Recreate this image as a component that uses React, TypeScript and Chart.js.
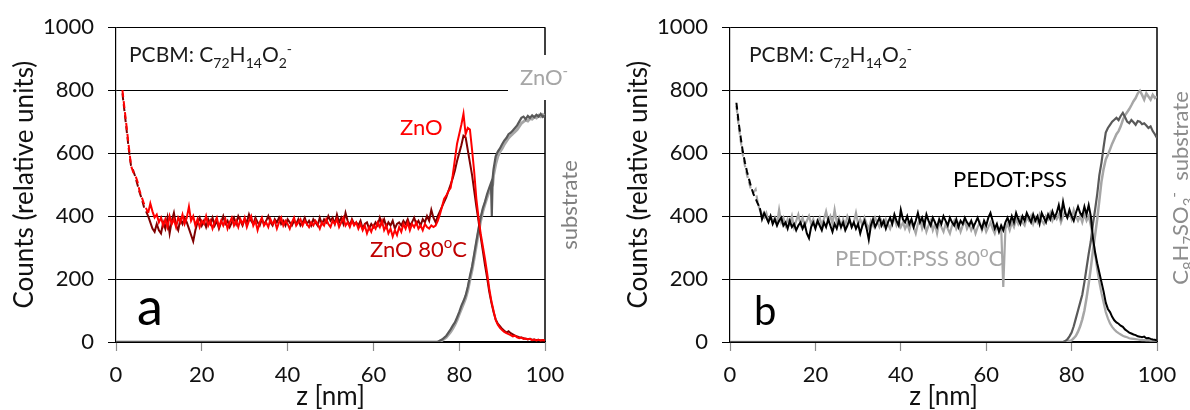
import React, { useEffect, useRef } from "react";
import { Chart, registerables } from "chart.js";

Chart.register(...registerables);

const FONT = "Lato, 'Open Sans', sans-serif";

// ---------- data ----------
// PCBM (C72H14O2-) signal, sampled from z = 1.5 nm every 0.5 nm
const PCBM_Z_START = 1.5;
const PCBM_Z_STEP = 0.5;

const znoCounts = [
  800, 740, 680, 620, 560, 540, 530, 510, 480, 460,
  440, 425, 410, 440, 415, 395, 405, 380, 395, 370,
  390, 365, 400, 375, 390, 365, 395, 380, 405, 375,
  395, 430, 385, 400, 370, 390, 365, 385, 375, 400,
  370, 385, 360, 380, 395, 365, 385, 370, 390, 360,
  380, 395, 370, 385, 365, 390, 375, 395, 365, 385,
  400, 370, 385, 355, 380, 395, 370, 380, 365, 390,
  375, 385, 360, 380, 395, 370, 385, 375, 360, 380,
  395, 370, 380, 390, 370, 385, 375, 365, 380, 370,
  385, 375, 360, 380, 370, 390, 375, 365, 385, 375,
  390, 365, 380, 395, 370, 380, 365, 385, 370, 380,
  360, 375, 355, 370, 345, 365, 350, 370, 360, 380,
  365, 385, 355, 370, 345, 360, 335, 355, 340, 365,
  350, 375, 360, 380, 355, 375, 365, 380, 360, 370,
  355, 375, 365, 360, 370, 365, 370, 385, 405, 430,
  455, 465, 480, 490, 530, 580, 630, 660, 690, 725,
  660, 680, 675, 610, 540, 455, 395, 345, 305, 265,
  220, 170, 130, 100, 70, 55, 45, 38, 32, 28,
  25, 22, 18, 20, 15, 12, 14, 10, 11, 8,
  10, 6, 8, 5, 7, 5, 6, 5,
];

const zno80Counts = [
  790, 730, 670, 610, 560, 545, 525, 500, 475, 455,
  430, 415, 400, 380, 360, 350, 375, 355, 345, 380,
  360, 395, 345, 385, 410, 370, 355, 390, 375, 395,
  380, 360, 340, 320, 355, 380, 395, 370, 385, 365,
  390, 375, 395, 370, 385, 360, 380, 400, 375, 385,
  365, 380, 395, 375, 400, 385, 370, 390, 380, 405,
  385, 375, 395, 380, 370, 390, 375, 385, 400, 380,
  370, 390, 380, 395, 375, 385, 370, 390, 380, 370,
  385, 375, 390, 370, 380, 395, 375, 385, 370, 390,
  380, 370, 395, 375, 390, 380, 400, 385, 395, 375,
  405, 380, 395, 375, 410, 385, 370, 390, 375, 380,
  370, 385, 360, 375, 380, 360, 375, 365, 380, 370,
  395, 375, 390, 365, 380, 370, 385, 360, 375, 380,
  370, 385, 375, 390, 370, 380, 395, 375, 385, 370,
  390, 380, 400, 385, 420, 395, 380, 400, 415, 430,
  445, 460, 480, 500, 520, 545, 575, 600, 625, 655,
  650, 610, 570, 530, 480, 430, 385, 335, 290, 245,
  205, 160, 125, 95, 72, 58, 50, 42, 36, 30,
  34, 28, 24, 20, 18, 15, 14, 12, 10, 9,
  10, 7, 8, 6, 7, 5, 6, 5,
];

const pedotCounts = [
  760, 700, 650, 605, 570, 540, 515, 490, 470, 455,
  440, 425, 390, 410, 395, 380, 400, 375, 390, 370,
  385, 395, 370, 380, 360, 385, 365, 375, 355, 370,
  380, 360, 375, 345, 330, 365, 380, 360, 385, 370,
  355, 380, 365, 390, 370, 350, 375, 360, 385, 365,
  380, 355, 370, 390, 365, 380, 360, 375, 345, 370,
  385, 360, 325, 370, 390, 365, 380, 395, 370, 385,
  360, 380, 395, 375, 405, 385, 370, 420, 390, 380,
  400, 375, 390, 365, 385, 410, 380, 395, 370, 405,
  385, 370, 395, 380, 365, 390, 375, 400, 385, 370,
  395, 380, 370, 390, 365, 385, 375, 395, 380, 370,
  385, 365, 380, 395, 375, 360, 385, 370, 395, 410,
  385, 360, 375, 350, 370, 355, 380, 395, 375, 400,
  380, 410, 390, 375, 400, 385, 410, 395, 380, 405,
  385, 400, 375, 410, 395, 380, 405, 390, 415, 395,
  410, 435, 400, 445, 410, 395, 420, 400, 385, 410,
  430, 410, 400, 430, 405, 435, 400, 330, 285, 250,
  220, 190, 160, 125, 105, 95, 80, 69, 62, 58,
  52, 48, 40, 35, 30, 27, 24, 22, 18, 17,
  15, 17, 12, 13, 10, 8, 7, 5,
];

const pedot80Counts = [
  750, 690, 640, 595, 560, 530, 505, 480, 475, 485,
  440, 420, 405, 395, 410, 385, 400, 380, 395, 375,
  420, 380, 395, 370, 390, 375, 400, 365, 385, 405,
  375, 395, 370, 385, 400, 375, 390, 365, 380, 395,
  370, 390, 415, 385, 400, 375, 420, 380, 395, 365,
  390, 370, 400, 385, 365, 380, 410, 375, 390, 370,
  395, 375, 360, 385, 370, 395, 380, 365, 385, 370,
  390, 375, 360, 380, 395, 370, 385, 365, 380, 360,
  375, 355, 385, 365, 345, 375, 390, 360, 380, 350,
  370, 385, 355, 375, 345, 380, 365, 350, 375, 360,
  345, 370, 385, 360, 375, 350, 370, 385, 360, 375,
  355, 370, 345, 365, 380, 355, 375, 350, 365, 380,
  360, 345, 370, 355, 365, 175, 360, 375, 355, 380,
  365, 390, 375, 395, 380, 370, 395, 385, 400, 375,
  395, 380, 405, 385, 375, 400, 390, 410, 385, 400,
  390, 405, 380, 400, 415, 395, 410, 390, 420, 400,
  385, 400, 380, 405, 385, 400, 370, 330, 280, 230,
  190, 155, 125, 95, 75, 59, 48, 40, 33, 28,
  24, 20, 17, 15, 12, 11, 10, 9, 8, 7,
  6, 6, 5, 5, 4, 5, 4, 4,
];

// substrate signals (ZnO- / C8H7SO3-)
const znoSubZ = [
  0, 75, 76, 77,
  78, 78.5, 79, 79.5, 80, 80.5, 81, 81.5, 82, 82.5, 83, 83.5, 84, 84.5, 85, 85.5, 86, 86.5, 87,
  87.4, 87.6, 87.8,
  88, 88.5, 89, 89.5, 90, 90.5, 91, 91.5, 92, 92.5, 93, 93.5, 94, 94.5, 95, 95.5, 96, 96.5, 97, 97.5, 98, 98.5, 99, 99.5, 100,
];
const znoSubDark = [
  0, 0, 8, 20,
  40, 52, 62, 78, 95, 115, 130, 148, 175, 210, 240, 280, 320, 360, 395, 425, 445, 470, 490,
  505, 400, 520,
  548, 590, 605, 615, 628, 640, 648, 660, 665, 672, 680, 688, 700, 712, 716, 708, 718, 712, 720, 714, 722, 716, 725, 715, 720,
];
const znoSubLight = [
  0, 0, 5, 15,
  32, 43, 55, 70, 88, 105, 122, 140, 165, 198, 230, 268, 308, 348, 385, 415, 438, 460, 480,
  490, 495, 500,
  530, 565, 590, 605, 615, 628, 638, 648, 655, 662, 668, 675, 685, 695, 700, 705, 702, 710, 708, 715, 712, 720, 716, 722, 718,
];

const pssSubZ = [
  0, 77,
  78, 78.5, 79, 79.5, 80, 80.5, 81, 81.5, 82, 82.5,
  83, 83.5, 84, 84.5, 85, 85.5, 86, 86.5, 87, 87.5,
  88, 88.5, 89, 89.5, 90, 90.5, 91, 91.5, 92, 92.5,
  93, 93.5, 94, 94.5, 95, 95.5, 96, 96.5, 97, 97.5,
  98, 98.5, 99, 99.5, 100,
];
const pssSubDark = [
  0, 0,
  0, 3, 8, 18, 30, 50, 75, 100, 125, 150,
  190, 235, 280, 320, 375, 420, 470, 530, 570, 620,
  665, 680, 690, 700, 706, 712, 705, 718, 728, 715,
  700, 695, 705, 698, 690, 702, 700, 692, 695, 688,
  680, 685, 670, 660, 648,
];
const pssSubLight = [
  0, 0,
  0, 0, 1, 3, 5, 12, 20, 33, 50, 72,
  100, 140, 185, 235, 290, 340, 390, 450, 510, 550,
  580, 595, 612, 630, 645, 660, 670, 685, 705, 720,
  730, 740, 752, 765, 775, 790, 798, 785, 770, 790,
  780, 770, 785, 775, 780,
];

// axes
const X_MIN = 0, X_MAX = 100, X_STEP = 20;
const Y_MIN = 0, Y_MAX = 1000, Y_STEP = 200;
const X_TITLE = "z [nm]";
const Y_TITLE = "Counts (relative units)";

// ---------- helpers ----------
type Kind = "n" | "sub" | "sup";
type Part = [string, Kind];
type Note =
  | { type: "text"; parts: Part[]; x: number; y: number; size: number; color: string; rotate?: boolean }
  | { type: "box"; x: number; y: number; w: number; h: number };

const PCBM_PARTS: Part[] = [
  ["PCBM: C", "n"], ["72", "sub"], ["H", "n"], ["14", "sub"], ["O", "n"], ["2", "sub"], ["-", "sup"],
];

function partFont(k: Kind, size: number) {
  const s = k === "n" ? size : Math.round(size * 0.68);
  return `${s}px ${FONT}`;
}
function measureParts(ctx: CanvasRenderingContext2D, parts: Part[], size: number) {
  let w = 0;
  for (const [t, k] of parts) {
    ctx.font = partFont(k, size);
    w += ctx.measureText(t).width;
  }
  return w;
}
function drawParts(ctx: CanvasRenderingContext2D, parts: Part[], x: number, y: number, size: number, color: string) {
  let cx = x;
  ctx.fillStyle = color;
  ctx.textAlign = "left";
  ctx.textBaseline = "alphabetic";
  for (const [t, k] of parts) {
    ctx.font = partFont(k, size);
    const dy = k === "sub" ? size * 0.27 : k === "sup" ? -size * 0.4 : 0;
    ctx.fillText(t, cx, y + dy);
    cx += ctx.measureText(t).width;
  }
}

function series(z: number[], v: number[]) {
  return v.map((y, i) => ({ x: z[i], y }));
}
function pcbmSeries(v: number[]) {
  return v.map((y, i) => ({ x: PCBM_Z_START + i * PCBM_Z_STEP, y }));
}

type PanelProps = {
  left: number;
  width: number;
  plotLeft: number;
  plotRight: number;
  datasets: any[];
  notes: Note[];
  dashEnd: number;
};

function Panel({ left, width, plotLeft, plotRight, datasets, notes, dashEnd }: PanelProps) {
  const ref = useRef<HTMLCanvasElement | null>(null);
  useEffect(() => {
    if (!ref.current) return;
    const annot = {
      id: "annot",
      beforeDatasetsDraw(chart: any) {
        const { ctx, chartArea } = chart;
        ctx.save();
        ctx.strokeStyle = "#000";
        ctx.lineWidth = 1.5;
        ctx.beginPath();
        ctx.moveTo(chartArea.right, chartArea.top);
        ctx.lineTo(chartArea.right, chartArea.bottom);
        ctx.stroke();
        ctx.restore();
      },
      afterDatasetsDraw(chart: any) {
        const ctx: CanvasRenderingContext2D = chart.ctx;
        ctx.save();
        for (const n of notes) {
          if (n.type === "box") {
            ctx.fillStyle = "#fff";
            ctx.fillRect(n.x - left, n.y, n.w, n.h);
          } else if (n.rotate) {
            const w = measureParts(ctx, n.parts, n.size);
            ctx.save();
            ctx.translate(n.x - left, n.y);
            ctx.rotate(-Math.PI / 2);
            drawParts(ctx, n.parts, -w / 2, n.size * 0.33, n.size, n.color);
            ctx.restore();
          } else {
            drawParts(ctx, n.parts, n.x - left, n.y, n.size, n.color);
          }
        }
        ctx.restore();
      },
    };
    const dsets = datasets.map((d) => ({
      ...d,
      pointRadius: 0,
      tension: 0,
      fill: false,
      segment: d.dashed
        ? { borderDash: (c: any) => (c.p0.parsed.x < dashEnd ? [7, 4] : undefined) }
        : undefined,
    }));
    const chart = new Chart(ref.current, {
      type: "line",
      data: { datasets: dsets },
      plugins: [annot],
      options: {
        responsive: false,
        animation: false,
        events: [],
        layout: { padding: { left: 0, right: width - plotRight, top: 23, bottom: 0 } },
        plugins: { legend: { display: false }, tooltip: { enabled: false } },
        scales: {
          x: {
            type: "linear",
            min: X_MIN,
            max: X_MAX,
            afterFit: (s: any) => { s.height = 68; },
            ticks: {
              stepSize: X_STEP,
              font: { family: FONT, size: 22 },
              color: "#111",
              padding: 11,
              maxRotation: 0,
              callback: (v: any) => String(v),
            },
            grid: { drawOnChartArea: false, drawTicks: true, tickLength: 9, tickColor: "#8c8c8c", tickWidth: 1.2 },
            border: { color: "#000", width: 1.2 },
            title: {
              display: true,
              text: X_TITLE,
              font: { family: FONT, size: 26, lineHeight: 1 },
              color: "#111",
              padding: { top: 0, bottom: 0 },
            },
          },
          y: {
            type: "linear",
            min: Y_MIN,
            max: Y_MAX,
            afterFit: (s: any) => { s.width = plotLeft; },
            ticks: {
              stepSize: Y_STEP,
              font: { family: FONT, size: 22 },
              color: "#111",
              padding: 14,
              callback: (v: any) => String(v),
            },
            grid: { color: "#000", lineWidth: 1, drawTicks: true, tickLength: 8, tickColor: "#000" },
            border: { color: "#000", width: 1.2 },
            title: {
              display: true,
              text: Y_TITLE,
              font: { family: FONT, size: 26, lineHeight: 1 },
              color: "#111",
              padding: { top: 12, bottom: 0 },
            },
          },
        },
      } as any,
    });
    return () => chart.destroy();
  }, []);
  return (
    <canvas
      ref={ref}
      width={width}
      height={410}
      style={{ position: "absolute", left, top: 0, width, height: 410 }}
    />
  );
}

const LEFT_NOTES: Note[] = [
  { type: "text", parts: PCBM_PARTS, x: 129, y: 62, size: 21, color: "#1a1a1a" },
  { type: "text", parts: [["a", "n"]], x: 137, y: 325, size: 52, color: "#000" },
  { type: "text", parts: [["ZnO", "n"]], x: 400, y: 135, size: 22, color: "#ff0000" },
  { type: "text", parts: [["ZnO 80", "n"], ["o", "sup"], ["C", "n"]], x: 370, y: 257, size: 22, color: "#c00000" },
  { type: "box", x: 508, y: 55, w: 62, h: 45 },
  { type: "text", parts: [["ZnO", "n"], ["-", "sup"]], x: 520, y: 85, size: 22, color: "#a6a6a6" },
  { type: "text", parts: [["substrate", "n"]], x: 570, y: 205, size: 22, color: "#808080", rotate: true },
];

const RIGHT_NOTES: Note[] = [
  { type: "text", parts: PCBM_PARTS, x: 749, y: 62, size: 21, color: "#1a1a1a" },
  { type: "text", parts: [["b", "n"]], x: 754, y: 325, size: 40, color: "#000" },
  { type: "text", parts: [["PEDOT:PSS", "n"]], x: 953, y: 187, size: 22, color: "#000" },
  { type: "text", parts: [["PEDOT:PSS 80", "n"], ["o", "sup"], ["C", "n"]], x: 835, y: 266, size: 22, color: "#a6a6a6" },
  {
    type: "text",
    parts: [["C", "n"], ["8", "sub"], ["H", "n"], ["7", "sub"], ["SO", "n"], ["3", "sub"], ["-", "sup"], ["  substrate", "n"]],
    x: 1181,
    y: 188,
    size: 22,
    color: "#8c8c8c",
    rotate: true,
  },
];

export default function App() {
  const leftSets = [
    { data: pcbmSeries(znoCounts), borderColor: "#ff0000", borderWidth: 2, dashed: true },
    { data: pcbmSeries(zno80Counts), borderColor: "#800000", borderWidth: 2, dashed: true },
    { data: series(znoSubZ, znoSubDark), borderColor: "#595959", borderWidth: 2.2 },
    { data: series(znoSubZ, znoSubLight), borderColor: "#a6a6a6", borderWidth: 3 },
  ];
  const rightSets = [
    { data: pcbmSeries(pedotCounts), borderColor: "#000000", borderWidth: 2, dashed: true },
    { data: pcbmSeries(pedot80Counts), borderColor: "#a6a6a6", borderWidth: 2.2, dashed: true },
    { data: series(pssSubZ, pssSubDark), borderColor: "#595959", borderWidth: 2.2 },
    { data: series(pssSubZ, pssSubLight), borderColor: "#a6a6a6", borderWidth: 2.5 },
  ];
  return (
    <div style={{ position: "fixed", left: 0, top: 0, width: 1190, height: 410, background: "#fff", overflow: "hidden" }}>
      <Panel left={0} width={600} plotLeft={116} plotRight={545} datasets={leftSets} notes={LEFT_NOTES} dashEnd={7.5} />
      <Panel left={614} width={576} plotLeft={116} plotRight={543} datasets={rightSets} notes={RIGHT_NOTES} dashEnd={7} />
    </div>
  );
}
